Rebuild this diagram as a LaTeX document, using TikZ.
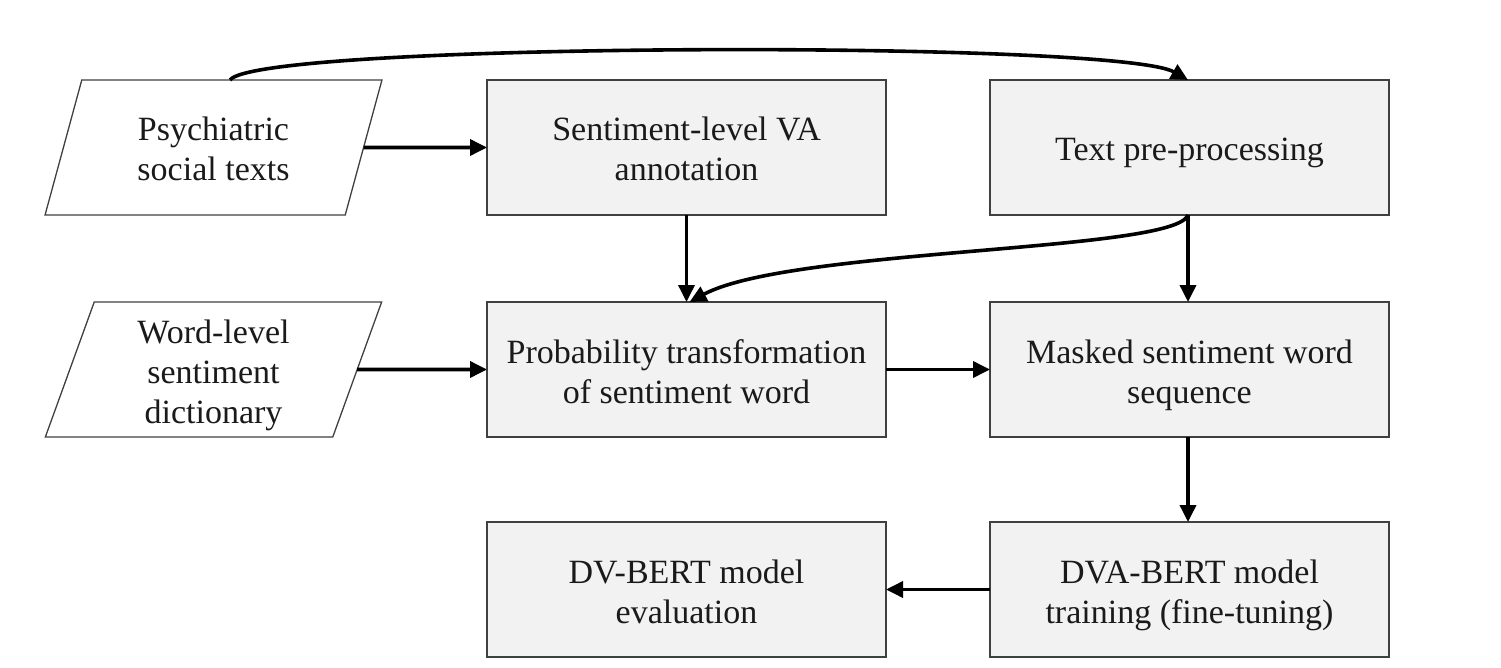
\documentclass[tikz,border=0pt]{standalone}
\usepackage{fontspec}
\setmainfont{Liberation Serif}
\usetikzlibrary{shapes.geometric,arrows.meta}
\definecolor{boxfill}{HTML}{F2F2F2}
\definecolor{boxline}{HTML}{404040}
\definecolor{txt}{HTML}{1A1A1A}
\newcommand\myhstrut{\rule{0pt}{36pt}}
\newcommand\mydstrut{\rule[-9pt]{0pt}{9pt}}
\tikzset{
  boxtext/.style={inner sep=0pt, outer sep=0pt, align=center, text=txt, font=\fontsize{34}{40}\selectfont},
  procbox/.style={boxtext, draw=boxline, line width=1.3pt, fill=boxfill, minimum width=399pt, minimum height=135pt},
  iobox/.style={boxtext, trapezium, trapezium stretches=true, trapezium left angle=76, trapezium right angle=104,
    draw=boxline, line width=1.3pt, fill=white, minimum width=337pt, minimum height=135pt},
  flow/.style={line width=3.6pt, -{Triangle[length=17pt,width=16pt]}}
}
\begin{document}
\begin{tikzpicture}[x=1pt,y=-1pt]
\useasboundingbox (0,0) rectangle (1501,668);
\node[iobox] (p1) at (213.5,147.5) {\myhstrut Psychiatric\\social texts\mydstrut};
\node[procbox] (va) at (686.5,147.5) {\myhstrut Sentiment-level VA\\annotation\mydstrut};
\node[procbox] (pre) at (1189.5,147.5) {\myhstrut Text pre-processing\mydstrut};
\node[iobox] (p2) at (213.5,369.5) {\myhstrut Word-level\\sentiment\\dictionary\mydstrut};
\node[procbox] (prob) at (686.5,369.5) {\myhstrut Probability transformation\\of sentiment word\mydstrut};
\node[procbox] (mask) at (1189.5,369.5) {\myhstrut Masked sentiment word\\sequence\mydstrut};
\node[procbox] (dv) at (686.5,589.5) {\myhstrut DV-BERT model\\evaluation\mydstrut};
\node[procbox] (dva) at (1189.5,589.5) {\myhstrut DVA-BERT model\\training (fine-tuning)\mydstrut};

\draw[flow] (p1.east) -- (va.west);
\draw[flow] (p2.east) -- (prob.west);
\draw[flow] (va.south) -- (prob.north);
\draw[flow] ([xshift=-1.5pt]pre.south) -- ([xshift=-1.5pt]mask.north);
\draw[flow] (prob.east) -- (mask.west);
\draw[flow] ([xshift=-1.5pt]mask.south) -- ([xshift=-1.5pt]dva.north);
\draw[flow] (dva.west) -- (dv.east);
\draw[flow] ([xshift=16.5pt]p1.north) .. controls (258,42) and (1118,40) .. ([xshift=-1.5pt]pre.north);
\draw[flow] ([xshift=-1.5pt]pre.south) .. controls (1175,252) and (790,248) .. ([xshift=3pt]prob.north);
\end{tikzpicture}
\end{document}
